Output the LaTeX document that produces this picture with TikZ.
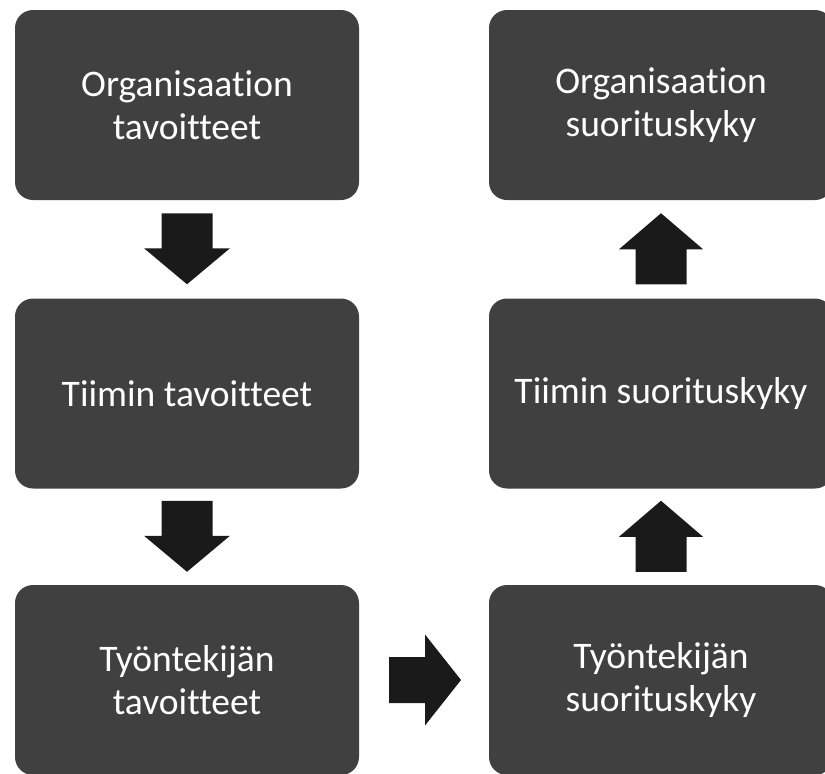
\documentclass[tikz,border=0pt]{standalone}
\usepackage{fontspec}
\setmainfont[Ligatures={NoCommon,NoContextual}]{Carlito}
\usetikzlibrary{calc}
\definecolor{boxgray}{HTML}{404040}
\definecolor{arrowblack}{HTML}{1A1A1A}
\tikzset{
  goalbox/.style={fill=boxgray, draw=none, rounded corners=18pt, minimum width=344pt, minimum height=190pt,
    inner sep=0pt, text=white, align=center, font=\fontsize{37.5}{43}\selectfont},
  blockarrow/.style={fill=arrowblack, draw=none}
}
\begin{document}
\begin{tikzpicture}[x=1pt,y=-1pt]
\useasboundingbox (0,0) rectangle (825,774);
\clip (0,0) rectangle (825,774);
\node[goalbox] (og) at (187,105) {Organisaation\\tavoitteet};
\node[goalbox] (tg) at (187,393.5) {Tiimin tavoitteet};
\node[goalbox] (eg) at (187,680) {Työntekijän\\tavoitteet};
\node[goalbox] (os) at (661,105) {Organisaation\\suorituskyky};
\node[goalbox] (ts) at (661,393.5) {Tiimin suorituskyky};
\node[goalbox] (es) at (661,680) {Työntekijän\\suorituskyky};
% midpoints
\path (og.south) -- (tg.north) coordinate[midway] (m1);
\path (tg.south) -- (eg.north) coordinate[midway] (m2);
\path (eg.east) -- (es.west) coordinate[midway] (m3);
\path (es.north) -- (ts.south) coordinate[midway] (m4);
\path (ts.north) -- (os.south) coordinate[midway] (m5);
% down arrows
\foreach \m in {m1,m2}{
  \fill[blockarrow, shift={(\m)}] (-25.5,-36) -- (25.5,-36) -- (25.5,-1) -- (43,-1) -- (0,35) -- (-43,-1) -- (-25.5,-1) -- cycle;
}
% up arrows
\foreach \m in {m4,m5}{
  \fill[blockarrow, shift={(\m)}] (-25.5,35) -- (25.5,35) -- (25.5,0) -- (42,0) -- (0,-36) -- (-42,0) -- (-25.5,0) -- cycle;
}
% right arrow
\fill[blockarrow, shift={(m3)}] (-35,-23) -- (1,-23) -- (1,-45.5) -- (37,0) -- (1,45.5) -- (1,23) -- (-35,23) -- cycle;
\end{tikzpicture}
\end{document}
